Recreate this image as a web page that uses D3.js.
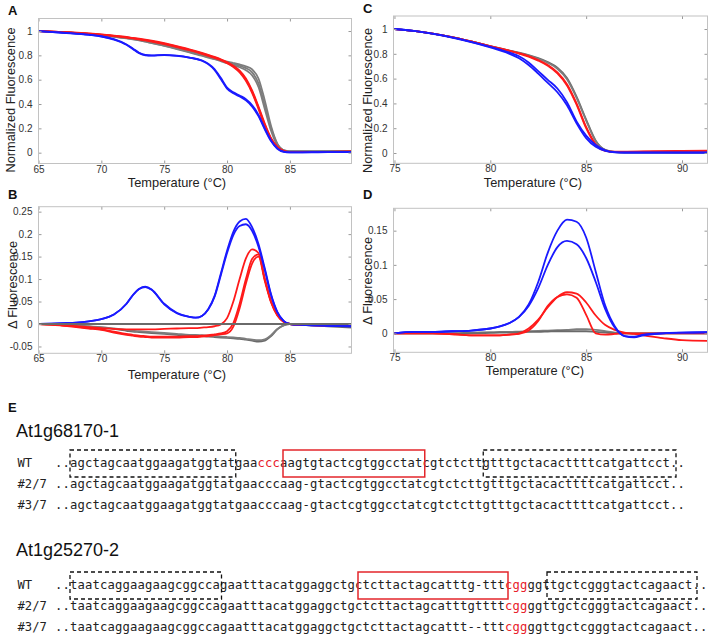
<!DOCTYPE html>
<html>
<head>
<meta charset="utf-8">
<script src="https://cdn.jsdelivr.net/npm/d3@7"></script>
<style>
  body { margin: 0; background: #fff; }
  svg { display: block; }
  .tick text { font-family: "Liberation Sans", Arial, sans-serif; font-size: 10px; fill: #333; }
  .axis-label { font-family: "Liberation Sans", Arial, sans-serif; font-size: 12.8px; fill: #222; }
  .letter { font-family: "Liberation Sans", Arial, sans-serif; font-size: 13px; font-weight: bold; fill: #111; }
  .gene { font-family: "Liberation Sans", Arial, sans-serif; font-size: 18px; fill: #111; }
  .mono { font-family: "DejaVu Sans Mono", "Liberation Mono", monospace; font-size: 12.2px; fill: #222; }
</style>
</head>
<body>
<svg id="fig" width="713" height="635"></svg>
<script>
// ---- panel A : normalized melt curves, At1g68170 ----
var tempA = [65, 67, 69, 70, 71, 72, 72.5, 73, 73.5, 74, 75, 76, 77, 78, 78.5, 79, 79.5, 80, 80.5, 81, 81.5, 82, 82.5, 83, 83.5, 84, 84.5, 85, 86, 88, 90];
var aGray1 = [1.0, 0.99, 0.977, 0.968, 0.958, 0.945, 0.937, 0.928, 0.918, 0.907, 0.885, 0.86, 0.833, 0.805, 0.79, 0.776, 0.762, 0.748, 0.737, 0.725, 0.71, 0.685, 0.61, 0.43, 0.22, 0.075, 0.022, 0.012, 0.012, 0.013, 0.015];
var aGray2 = [1.0, 0.99, 0.976, 0.966, 0.955, 0.942, 0.934, 0.925, 0.914, 0.903, 0.88, 0.855, 0.828, 0.8, 0.786, 0.772, 0.758, 0.743, 0.73, 0.715, 0.695, 0.66, 0.57, 0.39, 0.2, 0.07, 0.02, 0.01, 0.01, 0.012, 0.013];
var aGray3 = [1.0, 0.99, 0.975, 0.964, 0.953, 0.94, 0.932, 0.923, 0.912, 0.9, 0.877, 0.852, 0.825, 0.797, 0.782, 0.768, 0.752, 0.735, 0.72, 0.702, 0.678, 0.635, 0.54, 0.36, 0.18, 0.06, 0.018, 0.008, 0.008, 0.01, 0.01];
var aRed1 = [1.0, 0.992, 0.98, 0.972, 0.962, 0.951, 0.944, 0.937, 0.929, 0.92, 0.9, 0.876, 0.85, 0.82, 0.804, 0.787, 0.768, 0.745, 0.715, 0.675, 0.61, 0.51, 0.38, 0.24, 0.12, 0.05, 0.015, 0.005, 0.005, 0.007, 0.01];
var aRed2 = [1.0, 0.991, 0.978, 0.97, 0.96, 0.948, 0.941, 0.934, 0.926, 0.917, 0.896, 0.872, 0.846, 0.816, 0.8, 0.783, 0.764, 0.74, 0.71, 0.668, 0.6, 0.5, 0.37, 0.23, 0.115, 0.045, 0.013, 0.005, 0.005, 0.006, 0.008];
var aRed3 = [1.0, 0.99, 0.977, 0.968, 0.958, 0.946, 0.939, 0.931, 0.923, 0.914, 0.893, 0.868, 0.842, 0.812, 0.796, 0.779, 0.76, 0.736, 0.705, 0.66, 0.59, 0.49, 0.36, 0.22, 0.11, 0.04, 0.012, 0.004, 0.004, 0.005, 0.007];
var aBlue1 = [1.0, 0.985, 0.968, 0.955, 0.93, 0.887, 0.853, 0.818, 0.8, 0.797, 0.802, 0.796, 0.782, 0.758, 0.732, 0.688, 0.615, 0.535, 0.497, 0.47, 0.44, 0.39, 0.31, 0.2, 0.1, 0.035, 0.008, 0.002, 0.003, 0.005, 0.006];
var aBlue2 = [1.0, 0.986, 0.97, 0.957, 0.933, 0.89, 0.857, 0.822, 0.804, 0.8, 0.804, 0.797, 0.782, 0.757, 0.728, 0.68, 0.605, 0.527, 0.489, 0.462, 0.43, 0.378, 0.3, 0.192, 0.095, 0.032, 0.007, 0.002, 0.003, 0.004, 0.005];

// ---- panel B : difference curves, At1g68170 ----
var tempB = [65, 66, 67, 68, 69, 70, 71, 72, 72.5, 73, 73.5, 74, 75, 76, 77, 77.5, 78, 78.5, 79, 79.5, 80, 80.5, 81, 81.5, 82, 82.5, 83, 83.5, 84, 84.5, 85, 86, 88, 90];
var bGray0 = [0, 0, 0, 0, 0, 0, 0, 0, 0, 0, 0, 0, 0, 0, 0, 0, 0, 0, 0, 0, 0, 0, 0, 0, 0, 0, 0, 0, 0, 0, 0, 0, 0, 0];
var bGray1 = [0, -0.001, -0.002, -0.004, -0.006, -0.008, -0.011, -0.015, -0.017, -0.018, -0.019, -0.02, -0.022, -0.024, -0.026, -0.026, -0.027, -0.028, -0.029, -0.03, -0.031, -0.032, -0.033, -0.035, -0.037, -0.039, -0.037, -0.027, -0.012, -0.003, 0.0, -0.002, -0.005, -0.008];
var bGray2 = [0, -0.001, -0.002, -0.003, -0.005, -0.007, -0.01, -0.013, -0.015, -0.016, -0.017, -0.018, -0.02, -0.022, -0.024, -0.024, -0.025, -0.026, -0.027, -0.028, -0.029, -0.03, -0.031, -0.033, -0.035, -0.036, -0.034, -0.025, -0.011, -0.003, 0.0, -0.001, -0.003, -0.005];
var bRed1 = [0, -0.001, -0.003, -0.005, -0.007, -0.009, -0.011, -0.012, -0.012, -0.012, -0.012, -0.012, -0.011, -0.01, -0.009, -0.009, -0.008, -0.007, -0.005, -0.001, 0.013, 0.05, 0.1, 0.146, 0.166, 0.158, 0.1, 0.05, 0.02, 0.005, 0.0, -0.002, -0.003, -0.004];
var bRed2 = [0, -0.001, -0.003, -0.006, -0.009, -0.012, -0.017, -0.022, -0.024, -0.026, -0.027, -0.028, -0.028, -0.028, -0.027, -0.027, -0.026, -0.025, -0.023, -0.021, -0.016, 0.002, 0.045, 0.1, 0.145, 0.155, 0.1, 0.05, 0.02, 0.005, 0.0, -0.002, -0.003, -0.004];
var bRed3 = [0, -0.002, -0.004, -0.007, -0.01, -0.013, -0.019, -0.024, -0.026, -0.028, -0.029, -0.03, -0.03, -0.03, -0.029, -0.029, -0.028, -0.027, -0.025, -0.023, -0.021, -0.006, 0.035, 0.09, 0.135, 0.15, 0.096, 0.048, 0.019, 0.005, 0.0, -0.002, -0.003, -0.004];
var bBlue1 = [0, 0.001, 0.002, 0.003, 0.006, 0.011, 0.021, 0.045, 0.064, 0.078, 0.083, 0.077, 0.045, 0.025, 0.016, 0.014, 0.018, 0.033, 0.062, 0.112, 0.163, 0.205, 0.228, 0.234, 0.215, 0.178, 0.124, 0.066, 0.027, 0.007, 0.0, -0.002, -0.004, -0.005];
var bBlue2 = [0, 0.001, 0.002, 0.003, 0.006, 0.011, 0.021, 0.045, 0.064, 0.078, 0.082, 0.076, 0.044, 0.024, 0.016, 0.014, 0.018, 0.032, 0.06, 0.108, 0.158, 0.198, 0.218, 0.222, 0.207, 0.172, 0.12, 0.064, 0.026, 0.007, 0.0, -0.002, -0.004, -0.005];

// ---- panel C : normalized melt curves, At1g25270 ----
var tempC = [75, 76, 77, 78, 79, 80, 81, 81.5, 82, 82.5, 83, 83.5, 84, 84.5, 85, 85.5, 86, 86.5, 87, 88, 89, 90, 91.4];
var cGray1 = [1.0, 0.985, 0.963, 0.935, 0.9, 0.862, 0.826, 0.809, 0.789, 0.765, 0.733, 0.688, 0.605, 0.455, 0.27, 0.1, 0.025, 0.008, 0.005, 0.005, 0.005, 0.004, 0.004];
var cGray2 = [1.0, 0.985, 0.963, 0.935, 0.9, 0.861, 0.824, 0.806, 0.785, 0.76, 0.727, 0.68, 0.595, 0.445, 0.262, 0.095, 0.023, 0.007, 0.004, 0.004, 0.004, 0.003, 0.003];
var cRed1 = [1.0, 0.985, 0.963, 0.935, 0.9, 0.862, 0.825, 0.805, 0.782, 0.75, 0.71, 0.65, 0.555, 0.4, 0.21, 0.07, 0.02, 0.01, 0.01, 0.012, 0.014, 0.017, 0.02];
var cRed2 = [1.0, 0.985, 0.963, 0.935, 0.9, 0.861, 0.823, 0.802, 0.778, 0.745, 0.703, 0.642, 0.545, 0.39, 0.2, 0.065, 0.018, 0.009, 0.009, 0.011, 0.013, 0.015, 0.018];
var cBlue1 = [1.0, 0.985, 0.962, 0.933, 0.897, 0.857, 0.81, 0.78, 0.73, 0.66, 0.59, 0.52, 0.41, 0.255, 0.14, 0.065, 0.022, 0.007, 0.004, 0.004, 0.004, 0.004, 0.004];
var cBlue2 = [1.0, 0.985, 0.961, 0.931, 0.894, 0.852, 0.8, 0.765, 0.71, 0.64, 0.565, 0.49, 0.385, 0.24, 0.12, 0.05, 0.017, 0.005, 0.003, 0.003, 0.003, 0.003, 0.003];

// ---- panel D : difference curves, At1g25270 ----
var tempD = [75, 76, 77, 78, 79, 80, 80.5, 81, 81.5, 82, 82.5, 83, 83.5, 84, 84.5, 85, 85.5, 86, 86.5, 87, 87.5, 88, 89, 90, 91.4];
var dGray1 = [0, 0, 0, 0, 0.001, 0.0015, 0.002, 0.002, 0.0025, 0.003, 0.0035, 0.004, 0.0045, 0.005, 0.006, 0.006, 0.005, 0.003, 0.001, 0, 0, 0, 0, 0, 0];
var dGray2 = [0, 0, 0, 0, 0, 0.0005, 0.001, 0.001, 0.0015, 0.002, 0.002, 0.0025, 0.003, 0.003, 0.003, 0.003, 0.002, 0.001, 0, 0, 0, 0, 0, 0, 0];
var dRed1 = [0, 0, 0, -0.0015, -0.003, -0.003, -0.003, -0.002, 0.0, 0.007, 0.02, 0.038, 0.053, 0.06, 0.058, 0.045, 0.026, 0.012, 0.005, 0.001, -0.001, -0.003, -0.007, -0.01, -0.011];
var dRed2 = [0, 0, 0, -0.001, -0.003, -0.003, -0.003, -0.002, -0.001, 0.004, 0.018, 0.04, 0.053, 0.057, 0.052, 0.027, 0.0, -0.002, -0.001, 0, 0, 0, 0, 0, 0];
var dBlue1 = [0.0, 0.002, 0.002, 0.003, 0.004, 0.007, 0.01, 0.015, 0.024, 0.042, 0.075, 0.118, 0.15, 0.166, 0.163, 0.14, 0.09, 0.04, 0.01, -0.004, -0.006, -0.003, 0.0, 0.001, 0.0015];
var dBlue2 = [0.0, 0.002, 0.002, 0.003, 0.004, 0.007, 0.01, 0.015, 0.024, 0.04, 0.066, 0.1, 0.126, 0.135, 0.13, 0.11, 0.075, 0.035, 0.008, -0.004, -0.005, -0.002, 0.0, 0.001, 0.0015];

// tick labels
var ticksTempAB = [65, 70, 75, 80, 85];
var ticksTempCD = [75, 80, 85, 90];
var ticksNorm = [0, 0.2, 0.4, 0.6, 0.8, 1];
var ticksDeltaB = [-0.05, 0, 0.05, 0.1, 0.15, 0.2, 0.25];
var ticksDeltaD = [0, 0.05, 0.1, 0.15];

// ---- panel E : sequences ----
var geneNames = ["At1g68170-1", "At1g25270-2"];
var rowLabels = ["WT", "#2/7", "#3/7"];
var seqGene1 = [
  "agctagcaatggaagatggtatgaacccaagtgtactcgtggcctatcgtctcttgtttgctacacttttcatgattcct",
  "agctagcaatggaagatggtatgaacccaag-gtactcgtggcctatcgtctcttgtttgctacacttttcatgattcct",
  "agctagcaatggaagatggtatgaacccaag-gtactcgtggcctatcgtctcttgtttgctacacttttcatgattcct"
];
var seqGene2 = [
  "taatcaggaagaagcggccagaatttacatggaggctgctcttactagcatttg-tttcggggttgctcgggtactcagaact",
  "taatcaggaagaagcggccagaatttacatggaggctgctcttactagcatttgttttcggggttgctcgggtactcagaact",
  "taatcaggaagaagcggccagaatttacatggaggctgctcttactagcattt--tttcggggttgctcgggtactcagaact"
];
// red letters (PAM), [first, last+1] per row
var redGene1 = [[25, 28], null, null];
var redGene2 = [[58, 61], [58, 61], [58, 61]];
// boxes in character units: [from, to, kind]
var boxGene1 = [[0, 22.1, "dash"], [28.4, 47.3, "red"], [55.1, 80.8, "dash"]];
var boxGene2 = [[0, 20.2, "dash"], [38.4, 58.4, "red"], [63.6, 83.6, "dash"]];

var svg = d3.select("#fig");
var GRAY = "#7d7d7d", GRAY_D = "#6a6a6a", RED = "#ff1a1a", BLUE = "#1a1aff";

var panels = [
  { id: "A", temps: tempA, left: 38.5, right: 351.5, top: 18.5, bottom: 163.5,
    xDomain: [65, 89.9], yDomain: [-0.089, 1.103], xTicks: ticksTempAB, yTicks: ticksNorm,
    series: [[aGray1, GRAY], [aGray2, GRAY], [aGray3, GRAY], [aRed1, RED], [aRed2, RED], [aRed3, RED], [aBlue1, BLUE], [aBlue2, BLUE]],
    ylabel: "Normalized Fluorescence", ylx: 15, yly: 100, xlx: 177, xly: 187, lx: 8, ly: 15 },
  { id: "B", temps: tempB, left: 38.5, right: 351.5, top: 206.7, bottom: 353.3,
    xDomain: [65, 89.9], yDomain: [-0.0652, 0.261], xTicks: ticksTempAB, yTicks: ticksDeltaB,
    series: [[bGray1, GRAY_D], [bGray2, GRAY], [bRed1, RED], [bRed2, RED], [bRed3, RED], [bBlue1, BLUE], [bBlue2, BLUE], [bGray0, GRAY_D]],
    ylabel: "\u0394 Fluorescence", ylx: 16.5, yly: 285, xlx: 177, xly: 379, lx: 8, ly: 199 },
  { id: "C", temps: tempC, left: 393.5, right: 707.5, top: 16, bottom: 163.3,
    xDomain: [74.95, 91.33], yDomain: [-0.083, 1.105], xTicks: ticksTempCD, yTicks: ticksNorm,
    series: [[cGray1, GRAY_D], [cGray2, GRAY], [cRed1, RED], [cRed2, RED], [cBlue1, BLUE], [cBlue2, BLUE]],
    ylabel: "Normalized Fluorescence", ylx: 372, yly: 100.5, xlx: 533, xly: 187, lx: 363, ly: 13 },
  { id: "D", temps: tempD, left: 393.5, right: 707.5, top: 208.3, bottom: 352.3,
    xDomain: [74.95, 91.33], yDomain: [-0.0278, 0.1827], xTicks: ticksTempCD, yTicks: ticksDeltaD,
    series: [[dGray1, GRAY], [dGray2, GRAY_D], [dRed1, RED], [dRed2, RED], [dBlue1, BLUE], [dBlue2, BLUE]],
    ylabel: "\u0394 Fluorescence", ylx: 372, yly: 281, xlx: 535, xly: 375, lx: 363, ly: 199 }
];

function fmtTick(d) {
  return String(+d.toFixed(2));
}

function styleAxis(sel) {
  sel.select(".domain").remove();
  sel.selectAll(".tick line").attr("stroke", "#9a9a9a");
}

function drawPanel(p) {
  var x = d3.scaleLinear().domain(p.xDomain).range([p.left, p.right]);
  var y = d3.scaleLinear().domain(p.yDomain).range([p.bottom, p.top]);
  var g = svg.append("g").attr("id", "panel" + p.id);

  g.append("clipPath").attr("id", "clip" + p.id)
    .append("rect")
    .attr("x", p.left).attr("y", p.top)
    .attr("width", p.right - p.left).attr("height", p.bottom - p.top);

  var line = d3.line()
    .x(function (d, i) { return x(p.temps[i]); })
    .y(function (d) { return y(d); })
    .curve(d3.curveMonotoneX);

  g.append("g")
    .attr("clip-path", "url(#clip" + p.id + ")")
    .selectAll("path")
    .data(p.series)
    .join("path")
    .attr("d", function (s) { return line(s[0]); })
    .attr("fill", "none")
    .attr("stroke", function (s) { return s[1]; })
    .attr("stroke-width", 1.8)
    .attr("stroke-linejoin", "round");

  // ticks on all four sides, pointing inward
  g.append("g").attr("transform", "translate(0," + p.bottom + ")")
    .call(d3.axisBottom(x).tickValues(p.xTicks).tickSizeInner(-3).tickSizeOuter(0).tickPadding(2).tickFormat(fmtTick))
    .call(styleAxis);
  g.append("g").attr("transform", "translate(0," + p.top + ")")
    .call(d3.axisTop(x).tickValues(p.xTicks).tickSizeInner(-3).tickSizeOuter(0).tickFormat(""))
    .call(styleAxis);
  g.append("g").attr("transform", "translate(" + p.left + ",0)")
    .call(d3.axisLeft(y).tickValues(p.yTicks).tickSizeInner(-3).tickSizeOuter(0).tickPadding(6).tickFormat(fmtTick))
    .call(styleAxis);
  g.append("g").attr("transform", "translate(" + p.right + ",0)")
    .call(d3.axisRight(y).tickValues(p.yTicks).tickSizeInner(-3).tickSizeOuter(0).tickFormat(""))
    .call(styleAxis);

  g.append("rect")
    .attr("x", p.left).attr("y", p.top)
    .attr("width", p.right - p.left).attr("height", p.bottom - p.top)
    .attr("fill", "none").attr("stroke", "#c2c2c2").attr("stroke-width", 1);

  g.append("text").attr("class", "axis-label")
    .attr("x", p.xlx).attr("y", p.xly)
    .attr("text-anchor", "middle")
    .text("Temperature (\u00b0C)");

  g.append("text").attr("class", "axis-label")
    .attr("transform", "translate(" + p.ylx + "," + p.yly + ") rotate(-90)")
    .attr("text-anchor", "middle")
    .text(p.ylabel);

  g.append("text").attr("class", "letter")
    .attr("x", p.lx).attr("y", p.ly)
    .text(p.id);
}

panels.forEach(drawPanel);

// ---- panel E ----
svg.append("text").attr("class", "letter").attr("x", 8).attr("y", 412).text("E");

// character index -> x position
var ix = d3.scaleLinear().domain([0, 1]).range([70, 77.5]);
var rowGap = 21;

function drawGene(name, seqs, reds, boxes, titleY, rowY) {
  var g = svg.append("g");
  g.append("text").attr("class", "gene").attr("x", 16).attr("y", titleY).text(name);

  seqs.forEach(function (seq, r) {
    var y = rowY + r * rowGap;
    g.append("text").attr("class", "mono")
      .attr("x", ix(-7)).attr("y", y)
      .text(rowLabels[r]);

    var full = ".." + seq + "..";
    var red = reds[r];
    var cuts = red ? [0, red[0] + 2, red[1] + 2, full.length] : [0, full.length];
    var t = g.append("text").attr("class", "mono").attr("y", y);
    for (var k = 0; k < cuts.length - 1; k++) {
      var a = cuts[k], b = cuts[k + 1];
      t.append("tspan")
        .attr("x", d3.range(a, b).map(function (i) { return ix(i - 2).toFixed(2); }).join(" "))
        .attr("fill", red && k === 1 ? "#e8202a" : "#222")
        .text(full.slice(a, b));
    }
  });

  boxes.forEach(function (b) {
    g.append("rect")
      .attr("x", ix(b[0])).attr("y", rowY - 17)
      .attr("width", ix(b[1]) - ix(b[0])).attr("height", 27)
      .attr("fill", "none")
      .attr("stroke", b[2] === "red" ? "#e3262b" : "#111")
      .attr("stroke-width", b[2] === "red" ? 1.5 : 1.3)
      .attr("stroke-dasharray", b[2] === "red" ? null : "4,3");
  });
}

drawGene(geneNames[0], seqGene1, redGene1, boxGene1, 437, 467);
drawGene(geneNames[1], seqGene2, redGene2, boxGene2, 556, 589);
</script>
</body>
</html>
